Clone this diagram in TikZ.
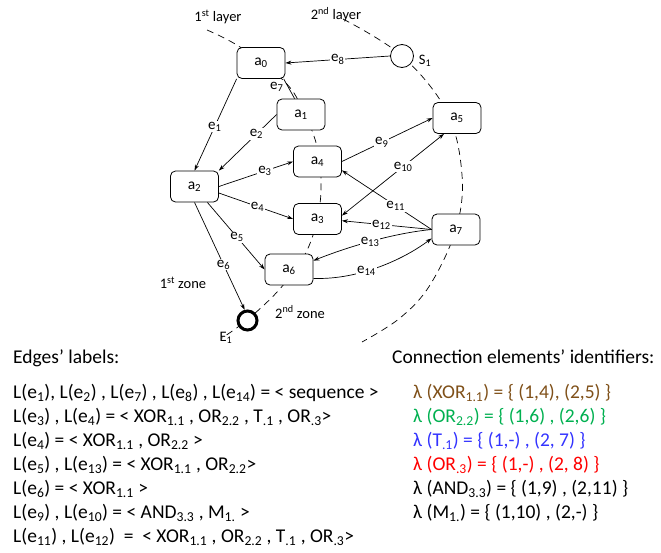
\documentclass[tikz,border=0pt]{standalone}
\usepackage{fontspec}
\setmainfont{Carlito}
\usetikzlibrary{arrows.meta,backgrounds}
\definecolor{xorc}{RGB}{127,80,25}
\definecolor{orc}{RGB}{0,176,80}
\definecolor{tc}{RGB}{51,51,255}
\definecolor{orthree}{RGB}{255,0,0}
\newcommand\sbs[1]{\textsubscript{#1}}
\newcommand\sps[1]{\textsuperscript{#1}}
\begin{document}
\begin{tikzpicture}[x=1pt,y=-1pt,
  box/.style={draw, rounded corners=5pt, minimum width=48pt, minimum height=31pt, fill=white, line width=0.8pt, font=\fontsize{15.5}{17}\selectfont, inner sep=0pt},
  edge/.style={line width=0.7pt, -{Stealth[length=6pt,width=4pt]}},
  elab/.style={fill=white, inner sep=1pt, font=\fontsize{15}{17}\selectfont},
  layer/.style={dash pattern=on 7pt off 5pt, line width=0.7pt},
  lbl/.style={font=\fontsize{14.5}{16}\selectfont, inner sep=0pt},
  txt/.style={font=\fontsize{19.5}{22}\selectfont, anchor=base west, inner sep=0pt}
]
\useasboundingbox (0,0) rectangle (661,552);

% nodes
\node[box] (a0) at (261,63) {a\sbs{0}};
\node[box] (a1) at (301,114.5) {a\sbs{1}};
\node[box] (a4) at (317.5,161.5) {a\sbs{4}};
\node[box] (a3) at (317.5,219) {a\sbs{3}};
\node[box] (a6) at (289,269.5) {a\sbs{6}};
\node[box] (a2) at (194.5,186.5) {a\sbs{2}};
\node[box] (a5) at (457,118) {a\sbs{5}};
\node[box] (a7) at (456,229.5) {a\sbs{7}};
\node[draw, circle, fill=white, minimum size=23pt, inner sep=0pt, line width=0.8pt] (S1) at (402,56) {};
\node[draw, circle, fill=white, minimum size=19pt, inner sep=0pt, line width=3pt] (E1) at (247.5,320.5) {};

% texts of the diagram
\node[lbl] (t1) at (218,17) {1\sps{st} layer};
\node[lbl] (t2) at (336,15) {2\sps{nd} layer};
\node[lbl] (t3) at (183,283) {1\sps{st} zone};
\node[lbl] (t4) at (300,312) {2\sps{nd} zone};
\node[lbl] (tS) at (425,61) {S\sbs{1}};
\node[lbl] (tE) at (226,338) {E\sbs{1}};

% layers
\begin{scope}[on background layer]
\draw[layer] plot[smooth, tension=0.6] coordinates {(207,30) (240,47) (284,81) (303,110) (318,150) (321,190) (316,225) (303,258) (278,291) (247,320) (222,338)};
\draw[layer] plot[smooth, tension=0.6] coordinates {(343,19) (402,56) (447,112) (462,175) (456,229) (430,285) (400,318) (362,342)};
\end{scope}

% edges
\draw[line width=0.7pt] (a0.-35) -- (a1.112) node[elab, pos=0.1, anchor=north east] {e\sbs{7}};
\draw[edge] (S1.west) -- node[elab] {e\sbs{8}} (a0.east);
\draw[edge] (a0.south west) -- node[elab, pos=0.52] {e\sbs{1}} (a2.north);
\draw[edge] (a1.west) -- node[elab, pos=0.35] {e\sbs{2}} (a2.north east);
\draw[edge] (a2.east) -- node[elab, pos=0.62] {e\sbs{3}} (a4.west);
\draw[edge] (a2.-15) -- node[elab, pos=0.52] {e\sbs{4}} (a3.west);
\draw[edge] (a2.-51) -- node[elab, pos=0.52] {e\sbs{5}} (a6.west);
\draw[edge] (a2.south) -- node[elab, pos=0.58] {e\sbs{6}} (E1.105);
\draw[edge] (a4.east) -- node[elab, pos=0.44] {e\sbs{9}} (a5.west);
\draw[edge, {Stealth[length=6pt,width=4pt]}-{Stealth[length=6pt,width=4pt]}] (a3.8) -- node[elab, pos=0.6] {e\sbs{10}} ([xshift=-13pt]a5.south);
\draw[edge] (a7.west) -- node[elab, pos=0.4] {e\sbs{11}} (a4.-20);
\draw[edge] (a7.west) -- node[elab, pos=0.56] {e\sbs{12}} (a3.-4);
\draw[edge] (a7.west) .. controls (395,233) and (350,246) .. node[elab, pos=0.52] {e\sbs{13}} (a6.20);
\draw[edge] (a6.-20) .. controls (355,280) and (400,262) .. node[elab, pos=0.42] {e\sbs{14}} (a7.200);

% lower texts
\node[txt] (h1) at (13,363) {Edges’ labels:};
\node[txt] (l1) at (13,398) {L(e\sbs{1}), L(e\sbs{2}) , L(e\sbs{7}) , L(e\sbs{8}) , L(e\sbs{14}) = < sequence >};
\node[txt] (l2) at (13,422) {L(e\sbs{3}) , L(e\sbs{4}) = < XOR\sbs{1.1} , OR\sbs{2.2} , T\sbs{.1} , OR\sbs{.3}>};
\node[txt] (l3) at (13,446) {L(e\sbs{4}) = < XOR\sbs{1.1} , OR\sbs{2.2} >};
\node[txt] (l4) at (13,470) {L(e\sbs{5}) , L(e\sbs{13}) = < XOR\sbs{1.1} , OR\sbs{2.2}>};
\node[txt] (l5) at (13,494) {L(e\sbs{6}) = < XOR\sbs{1.1} >};
\node[txt] (l6) at (13,518) {L(e\sbs{9}) , L(e\sbs{10}) = < AND\sbs{3.3} , M\sbs{1.} >};
\node[txt] (l7) at (13,542) {L(e\sbs{11}) , L(e\sbs{12}) \ =\ \ < XOR\sbs{1.1} , OR\sbs{2.2} ,\ T\sbs{.1} , OR\sbs{.3}>};

\node[txt] (h2) at (392,363) {Connection elements’ identifiers:};
\node[txt, text=xorc] (r1) at (413,398) {λ (XOR\sbs{1.1}) = \{ (1,4), (2,5) \}};
\node[txt, text=orc] (r2) at (413,422) {λ (OR\sbs{2.2}) = \{ (1,6) , (2,6) \}};
\node[txt, text=tc] (r3) at (413,446) {λ (T\sbs{.1}) = \{ (1,-) , (2, 7) \}};
\node[txt, text=orthree] (r4) at (413,470) {λ (OR\sbs{.3}) = \{ (1,-) , (2, 8) \}};
\node[txt] (r5) at (413,494) {λ (AND\sbs{3.3}) = \{ (1,9) , (2,11) \}};
\node[txt] (r6) at (413,518) {λ (M\sbs{1.}) = \{ (1,10) , (2,-) \}};
\end{tikzpicture}
\end{document}
